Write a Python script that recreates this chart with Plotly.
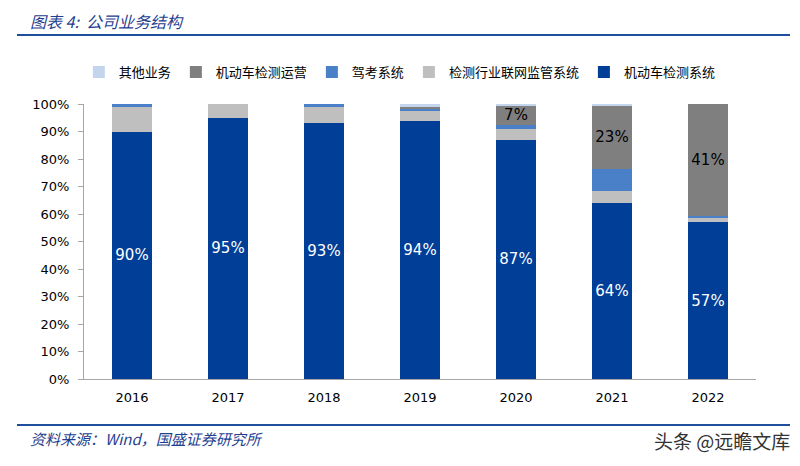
import plotly.graph_objects as go

years = ["2016", "2017", "2018", "2019", "2020", "2021", "2022"]
jdcjcxt = [90, 95, 93, 94, 87, 64, 57]          # 机动车检测系统
jchylw = [9, 5, 6, 3.5, 4, 4.2, 1.5]            # 检测行业联网监管系统
jkxt = [1, 0, 1, 1, 1.5, 8.3, 0.8]              # 驾考系统
jdcjcyy = [0, 0, 0, 0.5, 7, 23, 40.7]           # 机动车检测运营
qtyw = [0, 0, 0, 1, 0.5, 0.5, 0.5]              # 其他业务

names = ["机动车检测系统", "检测行业联网监管系统", "驾考系统", "机动车检测运营", "其他业务"]
colors = ["#003e97", "#bfbfbf", "#4a80c8", "#7f7f7f", "#c3d6ee"]
series = [jdcjcxt, jchylw, jkxt, jdcjcyy, qtyw]

def labels(vals, shown, min_v):
    if not shown:
        return [""] * len(vals)
    return [f"{round(v)}%" if v >= min_v else "" for v in vals]

label_cfg = [(True, 0, "white"), (False, 0, "black"), (False, 0, "black"), (True, 5, "black"), (False, 0, "black")]

fig = go.Figure()
for nm, col, vals, (shown, mv, tc) in zip(names, colors, series, label_cfg):
    fig.add_trace(go.Bar(
        x=years, y=vals, name=nm, marker=dict(color=col, line=dict(width=0)),
        text=labels(vals, shown, mv), textposition="inside", insidetextanchor="middle",
        textfont=dict(color=tc, size=15, family="DejaVu Sans"),
        hoverinfo="skip", cliponaxis=False,
    ))

fig.update_layout(
    barmode="stack", bargap=0.58,
    width=800, height=466,
    margin=dict(l=76, r=52, t=96, b=95),
    plot_bgcolor="white", paper_bgcolor="white",
    font=dict(family="DejaVu Sans, Noto Sans CJK SC", size=12, color="#000000"),
    uniformtext=dict(minsize=15, mode="show"),
    legend=dict(orientation="h", x=0.47, xanchor="center", y=1.116, yanchor="middle",
                traceorder="reversed", font=dict(family="Noto Sans CJK SC", size=13),
                itemwidth=30, tracegroupgap=0, bgcolor="rgba(0,0,0,0)"),
    xaxis=dict(showline=True, linecolor="#a6a6a6", linewidth=1, ticks="",
               tickfont=dict(size=13, family="DejaVu Sans", color="#000"),
               ticklabelstandoff=6, showgrid=False),
    yaxis=dict(range=[0, 100], dtick=10, ticksuffix="%", showline=True, linecolor="#a6a6a6",
               linewidth=1, ticks="outside", ticklen=5, tickcolor="#a6a6a6",
               tickfont=dict(size=13, family="DejaVu Sans", color="#000"),
               ticklabelstandoff=6, showgrid=False, zeroline=False),
    showlegend=True,
)

fig.add_shape(type="line", xref="paper", yref="paper", x0=-0.0997, x1=1.0506, y0=1.251, y1=1.251,
              line=dict(color="#1f4e9a", width=2))
fig.add_shape(type="line", xref="paper", yref="paper", x0=-0.0997, x1=1.0506, y0=-0.167, y1=-0.167,
              line=dict(color="#1f4e9a", width=2))

fig.add_annotation(xref="paper", yref="paper", x=-0.083, y=1.302, xanchor="left", yanchor="middle",
                   text="<i>图表 4:  公司业务结构</i>", showarrow=False,
                   font=dict(family="Noto Sans CJK SC", size=16, color="#1f3f8f"))
fig.add_annotation(xref="paper", yref="paper", x=-0.083, y=-0.217, xanchor="left", yanchor="middle",
                   text="<i>资料来源：Wind，国盛证券研究所</i>", showarrow=False,
                   font=dict(family="Noto Sans CJK SC", size=15, color="#1f3f8f"))
fig.add_annotation(xref="paper", yref="paper", x=1.054, y=-0.225, xanchor="right", yanchor="middle",
                   text="头条 @远瞻文库", showarrow=False,
                   font=dict(family="Noto Sans CJK SC", size=19, color="#333333"))

fig.write_html("out.html")
